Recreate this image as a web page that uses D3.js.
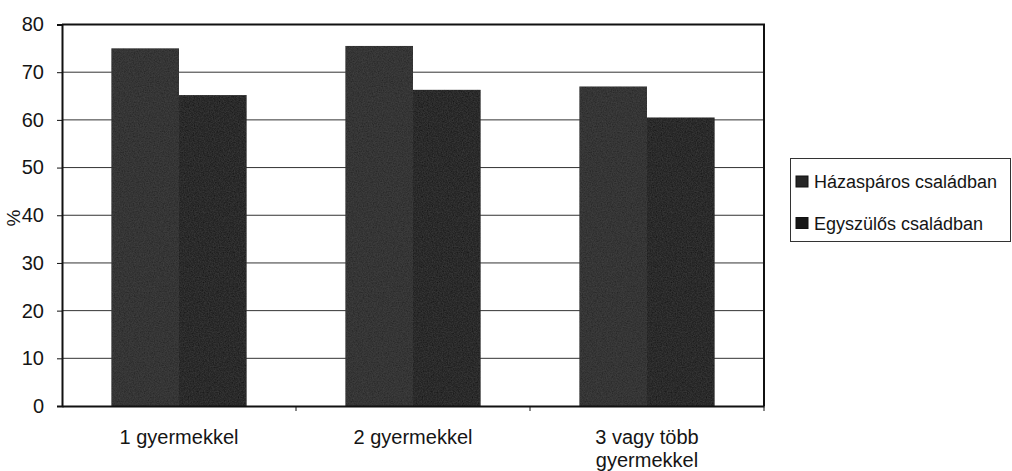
<!DOCTYPE html>
<html>
<head>
<meta charset="utf-8">
<script src="https://cdn.jsdelivr.net/npm/d3@7"></script>
<style>
  body { margin: 0; background: #fff; }
  svg { display: block; font-family: "Liberation Sans", Arial, sans-serif; }
</style>
</head>
<body>
<div id="chart"></div>
<script>
var categories = [["1 gyermekkel"], ["2 gyermekkel"], ["3 vagy több", "gyermekkel"]]
var series = ["Házaspáros családban", "Egyszülős családban"]
var hazasparos = [75.0, 75.5, 67.0]
var egyszulos = [65.2, 66.3, 60.5]
var yTicks = [0, 10, 20, 30, 40, 50, 60, 70, 80]

var width = 1012, height = 471
var margin = {top: 24.5, right: 248, bottom: 65, left: 62}
var colors = ["#262626", "#171717"]

var svg = d3.select("#chart")
    .append("svg")
        .attr("width", width)
        .attr("height", height)

var catNames = categories.map(d => d.join(" "))

// x scales
var x0 = d3.scaleBand()
    .domain(catNames)
    .range([margin.left, width - margin.right])
    .padding(0)
var x1 = d3.scaleBand()
    .domain(series)
    .range([0, x0.bandwidth()])
    .paddingInner(0)
    .paddingOuter(0.73)

// y scale
var y = d3.scaleLinear()
    .domain([0, 80])
    .range([height - margin.bottom, margin.top])

// light grain on the bars, like the scanned print
var defs = svg.append("defs")
var filt = defs.append("filter").attr("id", "grain")
filt.append("feTurbulence")
    .attr("type", "fractalNoise")
    .attr("baseFrequency", 0.8)
    .attr("numOctaves", 2)
    .attr("seed", 3)
    .attr("result", "noise")
filt.append("feColorMatrix")
    .attr("in", "noise")
    .attr("type", "matrix")
    .attr("values", "0 0 0 0 0.4  0 0 0 0 0.4  0 0 0 0 0.4  0 0 0 0.1 0")
    .attr("result", "speck")
filt.append("feComposite")
    .attr("in", "speck")
    .attr("in2", "SourceGraphic")
    .attr("operator", "in")
    .attr("result", "speckIn")
var merge = filt.append("feMerge")
merge.append("feMergeNode").attr("in", "SourceGraphic")
merge.append("feMergeNode").attr("in", "speckIn")

// gridlines
svg.append("g")
    .selectAll("line")
    .data(yTicks.filter(d => d > 0 && d < 80))
    .enter()
    .append("line")
        .attr("x1", margin.left)
        .attr("x2", width - margin.right)
        .attr("y1", d => y(d))
        .attr("y2", d => y(d))
        .attr("stroke", "#333")
        .attr("stroke-width", 1)

// bars
var data = catNames.map((c, i) => ({cat: c, vals: [hazasparos[i], egyszulos[i]]}))
svg.append("g")
    .selectAll("g")
    .data(data)
    .enter()
    .append("g")
        .attr("transform", d => "translate(" + x0(d.cat) + ",0)")
    .selectAll("rect")
    .data(d => d.vals.map((v, j) => ({s: series[j], v: v, j: j})))
    .enter()
    .append("rect")
        .attr("x", d => x1(d.s))
        .attr("y", d => y(d.v))
        .attr("width", x1.bandwidth())
        .attr("height", d => y(0) - y(d.v))
        .attr("fill", d => colors[d.j])
        .attr("filter", "url(#grain)")

// plot frame (top and right)
svg.append("path")
    .attr("d", "M" + margin.left + "," + y(80) + "H" + (width - margin.right) + "V" + y(0))
    .attr("fill", "none")
    .attr("stroke", "#111")
    .attr("stroke-width", 2)

// y axis
var yAxis = svg.append("g")
    .attr("transform", "translate(" + margin.left + ",0)")
    .call(d3.axisLeft(y).tickValues(yTicks).tickSize(5).tickPadding(13))
yAxis.select(".domain").attr("stroke", "#111").attr("stroke-width", 2)
yAxis.selectAll(".tick line").attr("stroke", "#111")
yAxis.selectAll("text")
    .attr("font-size", "20px")
    .attr("fill", "#151515")
    .attr("font-family", "Liberation Sans, Arial, sans-serif")

// x axis
var xAxis = svg.append("g")
    .attr("transform", "translate(0," + y(0) + ")")
    .call(d3.axisBottom(x0).tickSize(0).tickFormat(""))
xAxis.select(".domain").attr("stroke", "#111").attr("stroke-width", 2)
// boundary ticks between categories
xAxis.selectAll(".sep")
    .data(catNames)
    .enter()
    .append("line")
        .attr("class", "sep")
        .attr("x1", d => x0(d) + x0.bandwidth())
        .attr("x2", d => x0(d) + x0.bandwidth())
        .attr("y1", 0)
        .attr("y2", 5)
        .attr("stroke", "#111")

// category labels
svg.append("g")
    .selectAll("text")
    .data(categories)
    .enter()
    .append("text")
        .attr("x", (d, i) => x0(catNames[i]) + x0.bandwidth() / 2)
        .attr("y", y(0) + 38)
        .attr("text-anchor", "middle")
        .attr("font-size", "20px")
        .attr("fill", "#151515")
    .selectAll("tspan")
    .data(d => d)
    .enter()
    .append("tspan")
        .attr("x", function() { return d3.select(this.parentNode).attr("x") })
        .attr("dy", (d, i) => i === 0 ? 0 : 23)
        .text(d => d)

// y label
svg.append("text")
    .attr("transform", "translate(20,218) rotate(-90)")
    .attr("text-anchor", "middle")
    .attr("font-size", "19px")
    .attr("fill", "#151515")
    .text("%")

// legend
var leg = svg.append("g")
leg.append("rect")
    .attr("x", 790.5)
    .attr("y", 158.5)
    .attr("width", 220)
    .attr("height", 83)
    .attr("fill", "#fff")
    .attr("stroke", "#333")
    .attr("stroke-width", 1)
var items = leg.selectAll(".item")
    .data(series)
    .enter()
    .append("g")
        .attr("class", "item")
        .attr("transform", (d, i) => "translate(0," + (i * 41.5) + ")")
items.append("rect")
    .attr("x", 796)
    .attr("y", 176)
    .attr("width", 12)
    .attr("height", 11)
    .attr("fill", (d, i) => colors[i])
    .attr("stroke", "#111")
items.append("text")
    .attr("x", 814)
    .attr("y", 188)
    .attr("font-size", "18px")
    .attr("fill", "#151515")
    .text(d => d)
</script>
</body>
</html>
